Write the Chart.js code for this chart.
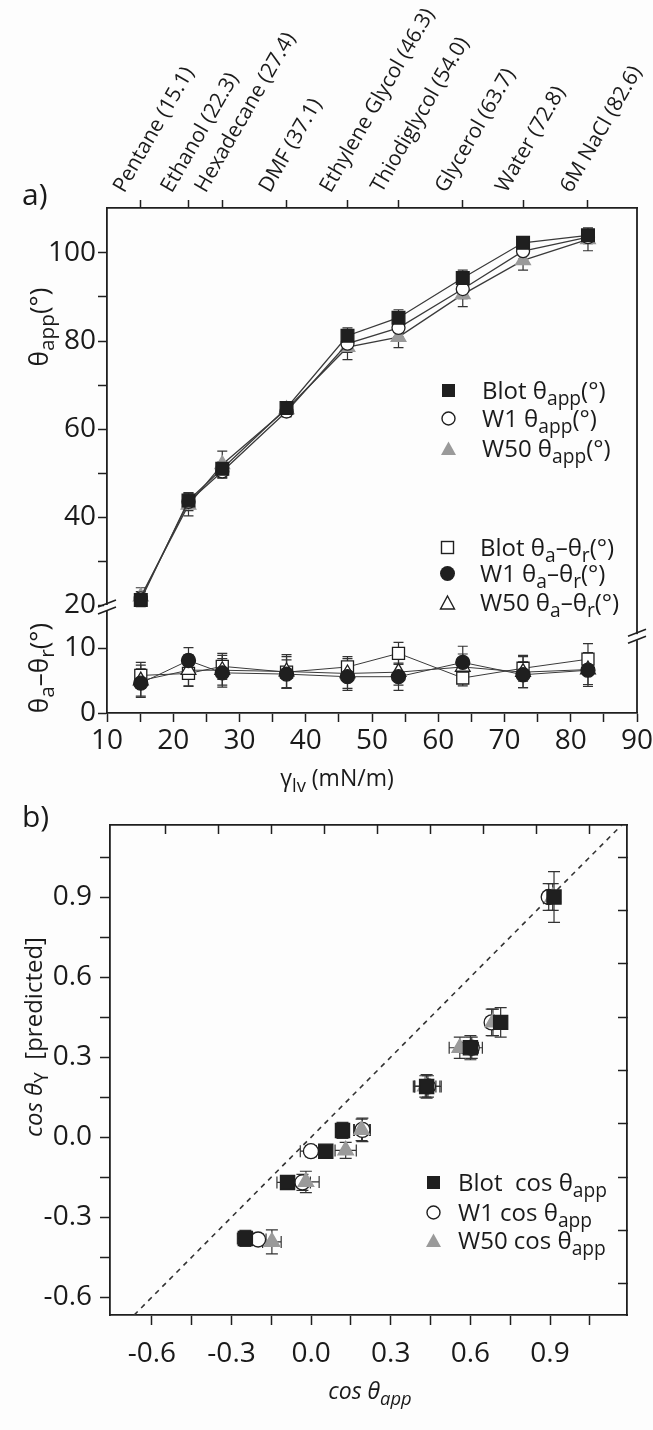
<!DOCTYPE html>
<html>
<head>
<meta charset="utf-8">
<script src="https://cdn.jsdelivr.net/npm/chart.js@4.4.1/dist/chart.umd.min.js"></script>
<style>
  body { margin: 0; background: #fdfdfd; font-family: 'Open Sans', sans-serif; color: #1a1a1a; }
  #page { position: relative; width: 653px; height: 1430px; overflow: hidden; }
  canvas { position: absolute; left: 0; }
  #chartA { top: 0; }
  #chartB { top: 780px; }
  .t { position: absolute; white-space: nowrap; line-height: 1; }
  .c { transform: translate(-50%, -50%); }
  .rot { transform: translate(-50%, -50%) rotate(-90deg); }
  .sub { font-size: 0.8em; position: relative; top: 0.3em; }
  .leg { position: absolute; white-space: nowrap; line-height: 1; font-size: 24px; transform: translateY(-50%); }
  .mk { position: absolute; }
</style>
</head>
<body>
<div id="page">
  <canvas id="chartA" width="653" height="780"></canvas>
  <canvas id="chartB" width="653" height="650"></canvas>

  <div class="t" style="left:22px; top:179px; font-size:30px;">a)</div>
  <div class="t" style="left:22px; top:801px; font-size:30px;">b)</div>

  <div class="t rot" style="left:38px; top:327px; font-size:26px;">θ<span class="sub">app</span>(°)</div>
  <div class="t rot" style="left:38px; top:668px; font-size:26px;">θ<span class="sub">a</span>–θ<span class="sub">r</span>(°)</div>
  <div class="t c" style="left:337px; top:777px; font-size:23px;">γ<span class="sub">lv</span> (mN/m)</div>
  <div class="t rot" style="left:33px; top:1037px; font-size:24px;"><i>cos θ</i><span class="sub">Y</span>&nbsp; [predicted]</div>
  <div class="t c" style="left:370px; top:1390px; font-size:23px;"><i>cos θ<span class="sub">app</span></i></div>

  <div id="legends"></div>
</div>

<script>
// surface tension of each test liquid (mN/m) and the names on the top axis
const solventLabels = ["Pentane (15.1)", "Ethanol (22.3)", "Hexadecane (27.4)", "DMF (37.1)",
  "Ethylene Glycol (46.3)", "Thiodiglycol (54.0)", "Glycerol (63.7)", "Water (72.8)", "6M NaCl (82.6)"];
const gammaLV = [15.1, 22.3, 27.4, 37.1, 46.3, 54.0, 63.7, 72.8, 82.6];

// apparent contact angle (deg)
const blotApp = [21.2, 43.8, 51.0, 64.8, 81.2, 85.3, 94.3, 102.3, 104.0];
const w1App = [21.6, 43.5, 50.4, 64.0, 79.4, 83.0, 91.8, 100.4, 103.6];
const w50App = [22.0, 42.8, 52.0, 64.5, 78.6, 80.9, 90.6, 98.3, 103.1];
const blotAppErr = [1.5, 1.8, 1.5, 1.2, 1.8, 1.8, 1.8, 1.2, 1.2];
const w1AppErr = [1.5, 2.0, 1.5, 1.2, 2.0, 2.0, 2.2, 1.8, 1.5];
const w50AppErr = [2.0, 2.5, 3.0, 1.5, 2.8, 2.4, 2.8, 2.2, 2.6];

// hysteresis theta_a - theta_r (deg)
const blotHyst = [5.8, 6.1, 7.2, 6.3, 7.1, 9.2, 5.4, 6.9, 8.3];
const w1Hyst = [4.6, 8.1, 6.2, 6.0, 5.6, 5.6, 7.8, 5.9, 6.6];
const w50Hyst = [5.0, 6.6, 6.6, 6.4, 6.1, 6.3, 7.1, 6.3, 6.7];
const blotHystErr = [2.0, 2.0, 2.0, 2.4, 1.6, 1.7, 1.2, 2.0, 2.4];
const w1HystErr = [2.2, 2.0, 2.2, 2.2, 2.1, 2.1, 2.5, 2.0, 2.2];
const w50HystErr = [2.4, 2.4, 2.3, 2.6, 2.3, 2.0, 2.0, 2.4, 2.6];

// panel b: measured cos(theta_app) vs predicted cos(theta_Y)
const blotCosApp = [0.915, 0.714, 0.600, 0.435, 0.118, 0.055, -0.089, -0.248];
const blotCosY = [0.900, 0.430, 0.335, 0.190, 0.025, -0.053, -0.170, -0.380];
const blotCosAppErr = [0.02, 0.02, 0.03, 0.05, 0.02, 0.02, 0.04, 0.03];
const blotCosYErr = [0.095, 0.055, 0.045, 0.044, 0.03, 0.02, 0.02, 0.03];
const w1CosApp = [0.895, 0.680, 0.605, 0.440, 0.193, -0.001, -0.033, -0.200];
const w1CosY = [0.900, 0.430, 0.335, 0.190, 0.027, -0.053, -0.170, -0.384];
const w1CosAppErr = [0.02, 0.02, 0.04, 0.05, 0.03, 0.04, 0.03, 0.03];
const w1CosYErr = [0.05, 0.05, 0.04, 0.04, 0.044, 0.02, 0.03, 0.02];
const w50CosApp = [0.910, 0.685, 0.560, 0.430, 0.190, 0.130, -0.020, -0.148];
const w50CosY = [0.900, 0.430, 0.335, 0.190, 0.027, -0.050, -0.168, -0.393];
const w50CosAppErr = [0.02, 0.02, 0.04, 0.04, 0.03, 0.04, 0.05, 0.035];
const w50CosYErr = [0.05, 0.05, 0.04, 0.04, 0.04, 0.03, 0.04, 0.045];
const identityLine = [-0.8, 1.2];

// tick positions
const gammaTicks = [10, 15, 20, 25, 30, 35, 40, 45, 50, 55, 60, 65, 70, 75, 80, 85, 90];
const appTicks = [20, 30, 40, 50, 60, 70, 80, 90, 100];
const hystTicks = [0, 10];
const cosTicks = [-0.6, -0.45, -0.3, -0.15, 0, 0.15, 0.3, 0.45, 0.6, 0.75, 0.9, 1.05];
const cosTicksMirror = [-0.55, -0.35, -0.15, 0.05, 0.25, 0.45, 0.65, 0.85, 1.05];

Chart.defaults.font.family = "'Open Sans', sans-serif";
Chart.defaults.color = '#1a1a1a';

const ink = '#1f1f1f';
const grey = '#9a9a9a';
const bg = '#fdfdfd';

function pts(xs, ys) {
  return xs.map((x, i) => ({ x: x, y: ys[i] }));
}

function fixedTicks(list) {
  return axis => { axis.ticks = list.map(v => ({ value: v })); };
}

function fixSize(prop, size) {
  return s => {
    s[prop] = size;
    s.paddingLeft = 0; s.paddingRight = 0; s.paddingTop = 0; s.paddingBottom = 0;
  };
}

// error bars, drawn through each dataset's own scales
const errorBars = {
  id: 'errorBars',
  beforeDatasetsDraw(chart) {
    const ctx = chart.ctx;
    chart.data.datasets.forEach((ds, i) => {
      if (!ds.errY && !ds.errX) return;
      const meta = chart.getDatasetMeta(i);
      const xs = chart.scales[meta.xAxisID];
      const ys = chart.scales[meta.yAxisID];
      const cap = ds.capSize || 5;
      ctx.save();
      ctx.strokeStyle = '#333';
      ctx.lineWidth = 1.2;
      ds.data.forEach((p, j) => {
        const px = xs.getPixelForValue(p.x);
        const py = ys.getPixelForValue(p.y);
        ctx.beginPath();
        if (ds.errY) {
          const y1 = ys.getPixelForValue(p.y + ds.errY[j]);
          const y2 = ys.getPixelForValue(p.y - ds.errY[j]);
          ctx.moveTo(px, y1); ctx.lineTo(px, y2);
          ctx.moveTo(px - cap, y1); ctx.lineTo(px + cap, y1);
          ctx.moveTo(px - cap, y2); ctx.lineTo(px + cap, y2);
        }
        if (ds.errX) {
          const x1 = xs.getPixelForValue(p.x - ds.errX[j]);
          const x2 = xs.getPixelForValue(p.x + ds.errX[j]);
          ctx.moveTo(x1, py); ctx.lineTo(x2, py);
          ctx.moveTo(x1, py - cap); ctx.lineTo(x1, py + cap);
          ctx.moveTo(x2, py - cap); ctx.lineTo(x2, py + cap);
        }
        ctx.stroke();
      });
      ctx.restore();
    });
  }
};

// right edge of panel a plus the axis break marks
const frameA = {
  id: 'frameA',
  afterDraw(chart) {
    const ctx = chart.ctx;
    const a = chart.chartArea;
    const yb = chart.scales.y.bottom;
    const yr = chart.scales.yHyst.getPixelForValue(11.7);
    ctx.save();
    ctx.strokeStyle = ink;
    ctx.lineWidth = 1.8;
    ctx.beginPath();
    ctx.moveTo(a.right, a.top);
    ctx.lineTo(a.right, a.bottom);
    ctx.stroke();
    [[a.left, yb], [a.right, yr]].forEach(([bx, by]) => {
      ctx.fillStyle = bg;
      ctx.fillRect(bx - 3, by - 3, 6, 6);
      ctx.lineWidth = 1.6;
      ctx.beginPath();
      ctx.moveTo(bx - 9, by - 1); ctx.lineTo(bx + 9, by - 8);
      ctx.moveTo(bx - 9, by + 6); ctx.lineTo(bx + 9, by - 1);
      ctx.stroke();
    });
    ctx.restore();
  }
};

function lineSeries(xs, ys, err, axis, look) {
  return Object.assign({
    data: pts(xs, ys), errY: err, capSize: 5,
    xAxisID: 'x', yAxisID: axis,
    showLine: true, tension: 0,
    borderColor: '#3a3a3a', borderWidth: 1.3,
    pointBorderWidth: 1.3
  }, look);
}

const sqFill = { pointStyle: 'rect', pointRadius: 9, pointBackgroundColor: ink, pointBorderColor: ink };
const sqOpen = { pointStyle: 'rect', pointRadius: 8.5, pointBackgroundColor: '#fff', pointBorderColor: ink };
const ciFill = { pointStyle: 'circle', pointRadius: 7, pointBackgroundColor: ink, pointBorderColor: ink };
const ciOpen = { pointStyle: 'circle', pointRadius: 6.5, pointBackgroundColor: '#fff', pointBorderColor: ink };
const trFill = { pointStyle: 'triangle', pointRadius: 8.5, pointBackgroundColor: grey, pointBorderColor: grey };
const trOpen = { pointStyle: 'triangle', pointRadius: 8.5, pointBackgroundColor: '#fff', pointBorderColor: ink };

const tickFont = { size: 28 };
const axisGrid = { drawOnChartArea: false, tickLength: 9, tickWidth: 1.5, color: ink };
const axisBorder = { color: ink, width: 1.8 };

new Chart(document.getElementById('chartA'), {
  type: 'line',
  data: {
    datasets: [
      lineSeries(gammaLV, blotApp, blotAppErr, 'y', sqFill),
      lineSeries(gammaLV, w1App, w1AppErr, 'y', ciOpen),
      lineSeries(gammaLV, w50App, w50AppErr, 'y', trFill),
      lineSeries(gammaLV, w1Hyst, w1HystErr, 'yHyst', Object.assign({}, ciFill, { borderWidth: 1 })),
      lineSeries(gammaLV, w50Hyst, w50HystErr, 'yHyst', Object.assign({}, trOpen, { borderWidth: 1 })),
      lineSeries(gammaLV, blotHyst, blotHystErr, 'yHyst', Object.assign({}, sqOpen, { borderWidth: 1 }))
    ]
  },
  options: {
    responsive: false,
    animation: false,
    plugins: { legend: { display: false }, tooltip: { enabled: false } },
    layout: { padding: { top: 0, right: 16, bottom: 0, left: 0 } },
    scales: {
      x: {
        type: 'linear', position: 'bottom', min: 10, max: 90,
        afterBuildTicks: fixedTicks(gammaTicks),
        afterFit: fixSize('height', 67),
        ticks: { autoSkip: false, maxRotation: 0, font: tickFont, padding: 2,
          callback: v => (v % 10 === 0 ? v : '') },
        grid: axisGrid, border: axisBorder
      },
      xTop: {
        type: 'linear', position: 'top', min: 10, max: 90,
        afterBuildTicks: fixedTicks(gammaLV),
        afterFit: fixSize('height', 208),
        ticks: { autoSkip: false, minRotation: 60, maxRotation: 60, font: { size: 21 }, padding: 3,
          callback: (v, i) => solventLabels[i] },
        grid: Object.assign({}, axisGrid, { tickLength: 8 }), border: axisBorder
      },
      // stacked pair: the lower band is listed first so it sits at the bottom
      yHyst: {
        type: 'linear', position: 'left', stack: 'a', stackWeight: 105, min: 0, max: 16.2,
        afterBuildTicks: fixedTicks(hystTicks),
        afterFit: fixSize('width', 107),
        ticks: { font: tickFont, padding: 2 },
        grid: axisGrid, border: axisBorder
      },
      y: {
        type: 'linear', position: 'left', stack: 'a', stackWeight: 400, min: 19.4, max: 110.2,
        afterBuildTicks: fixedTicks(appTicks),
        afterFit: fixSize('width', 107),
        ticks: { font: tickFont, padding: 2, callback: v => (v % 20 === 0 ? v : '') },
        grid: axisGrid, border: axisBorder
      }
    }
  },
  plugins: [errorBars, frameA]
});

function scatterSeries(xs, ys, ex, ey, look) {
  return Object.assign({
    data: pts(xs, ys), errX: ex, errY: ey, capSize: 6,
    xAxisID: 'x', yAxisID: 'y', showLine: false, pointBorderWidth: 1.3
  }, look);
}

const fmt = v => {
  const k = Math.round(v / 0.3);
  return Math.abs(k * 0.3 - v) < 1e-6 ? v.toFixed(1) : '';
};

new Chart(document.getElementById('chartB'), {
  type: 'scatter',
  data: {
    datasets: [
      scatterSeries(blotCosApp, blotCosY, blotCosAppErr, blotCosYErr,
        Object.assign({}, sqFill, { pointRadius: 10 })),
      scatterSeries(w50CosApp, w50CosY, w50CosAppErr, w50CosYErr,
        Object.assign({}, trFill, { pointRadius: 9 })),
      scatterSeries(w1CosApp, w1CosY, w1CosAppErr, w1CosYErr,
        Object.assign({}, ciOpen, { pointRadius: 7.5 })),
      {
        type: 'line', data: pts(identityLine, identityLine), xAxisID: 'x', yAxisID: 'y',
        showLine: true, borderColor: '#333', borderWidth: 1.6, borderDash: [5, 5], pointRadius: 0
      }
    ]
  },
  options: {
    responsive: false,
    animation: false,
    plugins: { legend: { display: false }, tooltip: { enabled: false } },
    layout: { padding: 0 },
    scales: {
      x: {
        type: 'linear', position: 'bottom', min: -0.758, max: 1.19,
        afterBuildTicks: fixedTicks(cosTicks),
        afterFit: fixSize('height', 115),
        ticks: { autoSkip: false, maxRotation: 0, font: tickFont, padding: 12, callback: fmt },
        grid: Object.assign({}, axisGrid, { tickLength: 10 }), border: axisBorder
      },
      xTop: {
        type: 'linear', position: 'top', min: -0.758, max: 1.19,
        afterBuildTicks: fixedTicks(cosTicksMirror),
        afterFit: fixSize('height', 45),
        ticks: { autoSkip: false, maxRotation: 0, callback: () => '' },
        grid: Object.assign({}, axisGrid, { tickLength: -9 }), border: axisBorder
      },
      y: {
        type: 'linear', position: 'left', min: -0.667, max: 1.17,
        afterBuildTicks: fixedTicks(cosTicks),
        afterFit: fixSize('width', 110),
        ticks: { autoSkip: false, font: tickFont, padding: 8, callback: fmt },
        grid: Object.assign({}, axisGrid, { tickLength: 10 }), border: axisBorder
      },
      yRight: {
        type: 'linear', position: 'right', min: -0.667, max: 1.17,
        afterBuildTicks: fixedTicks(cosTicksMirror),
        afterFit: fixSize('width', 26),
        ticks: { autoSkip: false, callback: () => '' },
        grid: Object.assign({}, axisGrid, { tickLength: -9 }), border: axisBorder
      }
    }
  },
  plugins: [errorBars]
});

// legends (html text so the sub/superscripts stay real text)
const markerSvg = {
  sqFill: '<rect x="2" y="2" width="13" height="13" fill="#1f1f1f"/>',
  sqOpen: '<rect x="2.5" y="2.5" width="12" height="12" fill="#fff" stroke="#1f1f1f" stroke-width="1.4"/>',
  ciFill: '<circle cx="8.5" cy="8.5" r="7.5" fill="#1f1f1f"/>',
  ciOpen: '<circle cx="8.5" cy="8.5" r="6.5" fill="#fff" stroke="#1f1f1f" stroke-width="1.4"/>',
  trFill: '<polygon points="8.5,1.5 16,15 1,15" fill="#9a9a9a"/>',
  trOpen: '<polygon points="8.5,2 15.5,15 1.5,15" fill="#fff" stroke="#1f1f1f" stroke-width="1.4"/>'
};

const legendRows = [
  ['sqFill', 'Blot θ<span class="sub">app</span>(°)', 448, 482, 390],
  ['ciOpen', 'W1 θ<span class="sub">app</span>(°)', 448, 482, 418],
  ['trFill', 'W50 θ<span class="sub">app</span>(°)', 448, 482, 448],
  ['sqOpen', 'Blot θ<span class="sub">a</span>–θ<span class="sub">r</span>(°)', 447, 480, 547],
  ['ciFill', 'W1 θ<span class="sub">a</span>–θ<span class="sub">r</span>(°)', 447, 480, 573],
  ['trOpen', 'W50 θ<span class="sub">a</span>–θ<span class="sub">r</span>(°)', 447, 480, 602],
  ['sqFill', 'Blot&nbsp; cos θ<span class="sub">app</span>', 433, 458, 1182],
  ['ciOpen', 'W1 cos θ<span class="sub">app</span>', 433, 458, 1212],
  ['trFill', 'W50 cos θ<span class="sub">app</span>', 433, 458, 1240]
];

const legendBox = document.getElementById('legends');
legendRows.forEach(([m, html, mx, tx, ty]) => {
  const svg = '<svg class="mk" width="17" height="17" style="left:' + (mx - 8.5) + 'px; top:' + (ty - 8.5) + 'px">' + markerSvg[m] + '</svg>';
  const txt = '<div class="leg" style="left:' + tx + 'px; top:' + ty + 'px">' + html + '</div>';
  legendBox.insertAdjacentHTML('beforeend', svg + txt);
});
</script>
</body>
</html>
